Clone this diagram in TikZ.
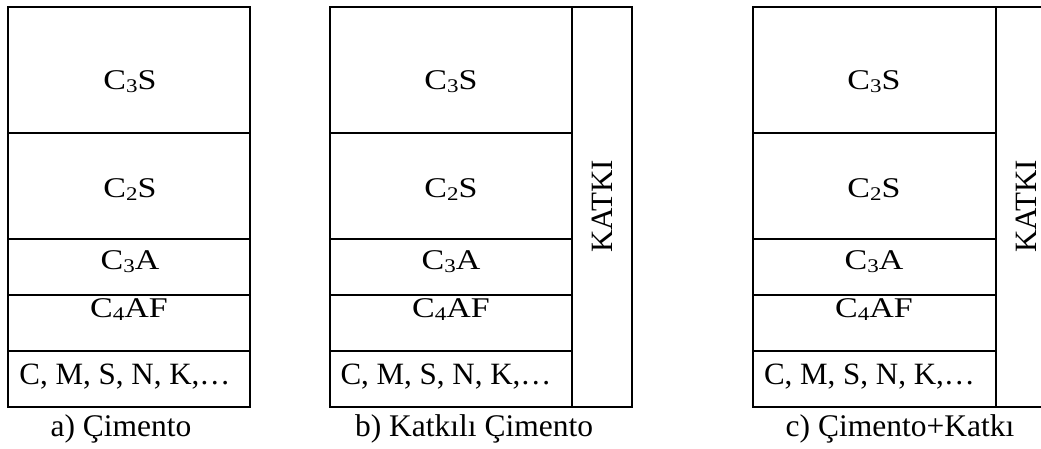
\documentclass[tikz,border=0pt]{standalone}
\usepackage{fontspec}
\setmainfont{Liberation Serif}
\newcommand\chemsub[1]{\raisebox{-0.12em}{\fontsize{23}{23}\selectfont #1}}
% slightly squashed phase labels inside the stacks
\newcommand\phase[2]{\scalebox{1}[0.84]{C\chemsub{#1}#2}}
\begin{document}
\begin{tikzpicture}[x=1pt,y=-1pt,
  frame/.style={draw=black,line width=2pt},
  phaselbl/.style={anchor=base,inner sep=0pt,font=\fontsize{34}{34}\selectfont},
  oxlbl/.style={anchor=base,inner sep=0pt,font=\fontsize{31}{31}\selectfont},
  caplbl/.style={anchor=base,inner sep=0pt,font=\fontsize{31.5}{31.5}\selectfont},
  addlbl/.style={anchor=center,inner sep=0pt,rotate=90,font=\fontsize{31}{31}\selectfont}]
\useasboundingbox (0,0) rectangle (1041,448);

% ---- a) cement alone
\draw[frame] (8,7) rectangle (250,407);
\foreach \yy in {133,239,295,351} \draw[frame] (8,\yy) -- (250,\yy);
\node[phaselbl] (a3s)  at (130,89)  {\phase{3}{S}};
\node[phaselbl] (a2s)  at (130,197) {\phase{2}{S}};
\node[phaselbl] (a3a)  at (130,269) {\phase{3}{A}};
\node[phaselbl] (a4af) at (129,317) {\phase{4}{AF}};
\node[oxlbl]    (aox)  at (125,384) {C, M, S, N, K,\dots};
\node[caplbl]   (acap) at (121,436) {a) Çimento};

% ---- b) blended cement
\draw[frame] (330,7) rectangle (632,407);
\draw[frame] (572,7) -- (572,407);
\foreach \yy in {133,239,295,351} \draw[frame] (330,\yy) -- (572,\yy);
\node[phaselbl] (b3s)  at (451,89)  {\phase{3}{S}};
\node[phaselbl] (b2s)  at (451,197) {\phase{2}{S}};
\node[phaselbl] (b3a)  at (451,269) {\phase{3}{A}};
\node[phaselbl] (b4af) at (451,317) {\phase{4}{AF}};
\node[oxlbl]    (box)  at (446,384) {C, M, S, N, K,\dots};
\node[addlbl]   (badd) at (602.5,206.5) {KATKI};
\node[caplbl]   (bcap) at (474,436) {b) Katkılı Çimento};

% ---- c) cement plus separate admixture
\draw[frame] (1045,7) -- (753,7) -- (753,407) -- (1045,407);
\draw[frame] (996,7) -- (996,407);
\foreach \yy in {133,239,295,351} \draw[frame] (753,\yy) -- (996,\yy);
\node[phaselbl] (c3s)  at (874,89)  {\phase{3}{S}};
\node[phaselbl] (c2s)  at (874,197) {\phase{2}{S}};
\node[phaselbl] (c3a)  at (874,269) {\phase{3}{A}};
\node[phaselbl] (c4af) at (874,317) {\phase{4}{AF}};
\node[oxlbl]    (cox)  at (869.5,384) {C, M, S, N, K,\dots};
\node[addlbl]   (cadd) at (1026.5,206.5) {KATKI};
\node[caplbl]   (ccap) at (900,436) {c) Çimento+Katkı};
\end{tikzpicture}
\end{document}
